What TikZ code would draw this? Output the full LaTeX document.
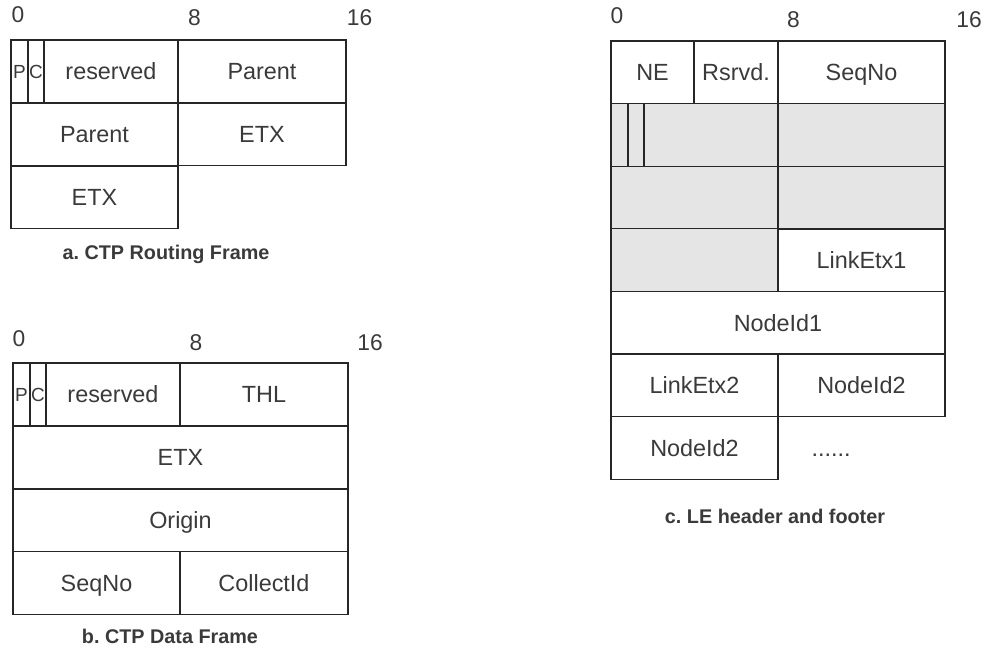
\documentclass[tikz,border=0pt]{standalone}
\usepackage{fontspec}
\setmainfont{Liberation Sans}
\frenchspacing
\definecolor{fline}{HTML}{262626}
\definecolor{ftext}{HTML}{3A3A3A}
\definecolor{fgrey}{HTML}{E5E5E5}

\begin{document}
\begin{tikzpicture}[x=0.5pt, y=-0.5pt, line width=0.65pt,
  cell/.style={draw=fline, anchor=north west, inner sep=0pt, outer sep=0pt,
    minimum width=#1*0.5pt, minimum height=62.8*0.5pt, text=ftext,
    text height=8.4pt, text depth=0pt,
    font=\fontsize{11.7}{14}\selectfont},
  bit/.style={cell=#1, text height=6.8pt, font=\fontsize{9.5}{11}\selectfont},
  ruler/.style={text=ftext, text height=8.2pt, text depth=0pt, inner sep=0pt,
    font=\fontsize{11.4}{14}\selectfont},
  figcap/.style={text=ftext, text height=7.1pt, text depth=0pt, inner sep=0pt,
    font=\bfseries\fontsize{9.9}{12}\selectfont}]
  \useasboundingbox (0,0) rectangle (984,651);

  % a. routing frame
  \node[ruler] (aR0)  at (18,14)    {0};
  \node[ruler] (aR8)  at (194.5,17.5) {8};
  \node[ruler] (aR16) at (359.5,17.5) {16};
  \node[bit=17]  (aP)    at (11,40)  {P};
  \node[bit=16]  (aC)    at (28,40)  {C};
  \node[cell=134] (aRes) at (44,40)  {reserved};
  \node[cell=168] (aPar) at (178,40) {Parent};
  \node[cell=167] (aParB) at (11,103)  {Parent};
  \node[cell=168] (aEtx)  at (178,103) {ETX};
  \node[cell=167] (aEtxB) at (11,166)  {ETX};
  \node[figcap] (aCap) at (166,252) {a. CTP Routing Frame};

  % b. data frame
  \node[ruler] (bR0)  at (19,338.5) {0};
  \node[ruler] (bR8)  at (196,342.5) {8};
  \node[ruler] (bR16) at (370,342.5) {16};
  \node[bit=17]  (bP)    at (13,363)  {P};
  \node[bit=16]  (bC)    at (30,363)  {C};
  \node[cell=134] (bRes) at (46,363)  {reserved};
  \node[cell=168] (bThl) at (180,363) {THL};
  \node[cell=335] (bEtx) at (13,426)  {ETX};
  \node[cell=335] (bOrig) at (13,489) {Origin};
  \node[cell=167] (bSeq) at (13,551.5)  {SeqNo};
  \node[cell=168] (bCol) at (180,551.5) {CollectId};
  \node[figcap] (bCap) at (170,636.5) {b. CTP Data Frame};

  % c. LE header and footer
  \node[ruler] (cR0)  at (617,15)    {0};
  \node[ruler] (cR8)  at (793.5,19.5) {8};
  \node[ruler] (cR16) at (969,19.5)  {16};
  \node[cell=83]  (cNe)  at (611,41)  {NE};
  \node[cell=84]  (cRsv) at (694,41)  {Rsrvd.};
  \node[cell=167] (cSeq) at (778,41)  {SeqNo};
  % grey rows, no field names
  \node[cell=17, fill=fgrey]  (cG1) at (611,103.6) {};
  \node[cell=16, fill=fgrey]  (cG2) at (628,103.6) {};
  \node[cell=134, fill=fgrey] (cG3) at (644,103.6) {};
  \node[cell=167, fill=fgrey] (cG4) at (778,103.6) {};
  \node[cell=167, fill=fgrey] (cG5) at (611,166.2) {};
  \node[cell=167, fill=fgrey] (cG6) at (778,166.2) {};
  \node[cell=167, fill=fgrey] (cG7) at (611,228.8) {};
  \node[cell=167] (cEtx1)  at (778,228.8) {LinkEtx1};
  \node[cell=334] (cNode1) at (611,291.4) {NodeId1};
  \node[cell=167] (cEtx2)  at (611,354)   {LinkEtx2};
  \node[cell=167] (cNode2) at (778,354)   {NodeId2};
  \node[cell=167] (cNode2B) at (611,416.6) {NodeId2};
  \node[ruler, font=\fontsize{11.7}{14}\selectfont] (cMore) at (831,448) {......};
  \node[figcap] (cCap) at (775,516) {c. LE header and footer};
\end{tikzpicture}
\end{document}
